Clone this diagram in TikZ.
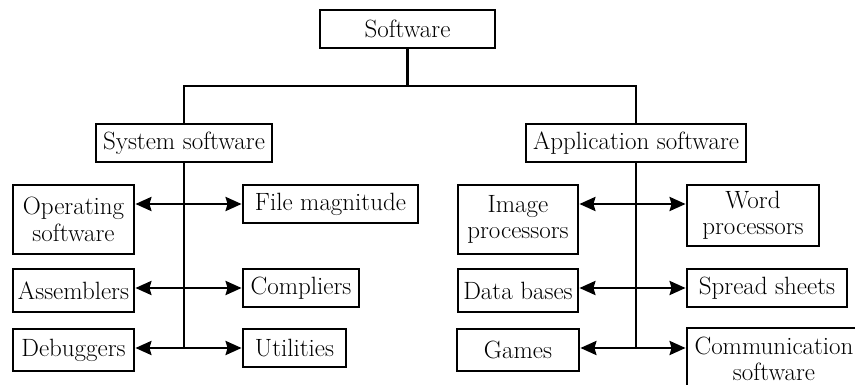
\documentclass[tikz,border=0pt]{standalone}
\usetikzlibrary{arrows.meta}
\begin{document}
\begin{tikzpicture}[x=1pt,y=-1pt,
  box/.style={draw,line width=2.8pt,rectangle,align=center,inner sep=0pt,
    font=\fontsize{25}{26.5}\selectfont},
  link/.style={line width=2.8pt},
  arr/.style={line width=2.8pt,{Stealth[length=16pt,width=14pt,inset=2pt]}-{Stealth[length=16pt,width=14pt,inset=2pt]}}]
\useasboundingbox (0,0) rectangle (855,385);
\begin{scope}
\clip (0,0) rectangle (855,385);
% top level
\node[box,minimum width=175pt,minimum height=38pt] (soft) at (407.5,29) {Software};
\node[box,minimum width=176pt,minimum height=38pt] (sys) at (184,143) {System software};
\node[box,minimum width=220pt,minimum height=38pt] (app) at (636,143) {Application software};
% system software group
\node[box,minimum width=121pt,minimum height=69pt] (os) at (73.5,219.5) {Operating\\software};
\node[box,minimum width=175pt,minimum height=38pt] (fm) at (330.5,204) {File magnitude};
\node[box,minimum width=121pt,minimum height=43pt] (asm) at (73.5,290.5) {Assemblers};
\node[box,minimum width=116pt,minimum height=38pt] (comp) at (301,288) {Compliers};
\node[box,minimum width=121pt,minimum height=42pt] (dbg) at (73.5,350) {Debuggers};
\node[box,minimum width=103pt,minimum height=38pt] (util) at (294.5,348) {Utilities};
% application software group
\node[box,minimum width=120pt,minimum height=69pt] (img) at (518,219.5) {Image\\processors};
\node[box,minimum width=132pt,minimum height=61pt] (word) at (753,215.5) {Word\\processors};
\node[box,minimum width=120pt,minimum height=43pt] (db) at (518,290.5) {Data bases};
\node[box,minimum width=160pt,minimum height=38pt] (ss) at (767,288) {Spread sheets};
\node[box,minimum width=122pt,minimum height=42pt] (games) at (518,350) {Games};
\node[box,minimum width=174pt,minimum height=62pt] (comm) at (774,359) {Communication\\software};
% tree connectors
\coordinate (split) at (soft.south |- 0,86);
\draw[link] (soft.south) -- (split);
\draw[link] (sys.north) |- (split) -| (app.north);
\draw[link] (sys.south) -- (sys.south |- util.west);
\draw[link] (app.south) -- (app.south |- util.west);
% double-headed arrows, system side
\draw[arr] (fm.west -| os.east) -- (fm.west);
\draw[arr] (comp.west -| asm.east) -- (comp.west);
\draw[arr] (util.west -| dbg.east) -- (util.west);
% double-headed arrows, application side
\draw[arr] (img.east |- fm.west) -- (word.west |- fm.west);
\draw[arr] (db.east |- comp.west) -- (ss.west |- comp.west);
\draw[arr] (games.east |- util.west) -- (comm.west |- util.west);
\end{scope}
\end{tikzpicture}
\end{document}
